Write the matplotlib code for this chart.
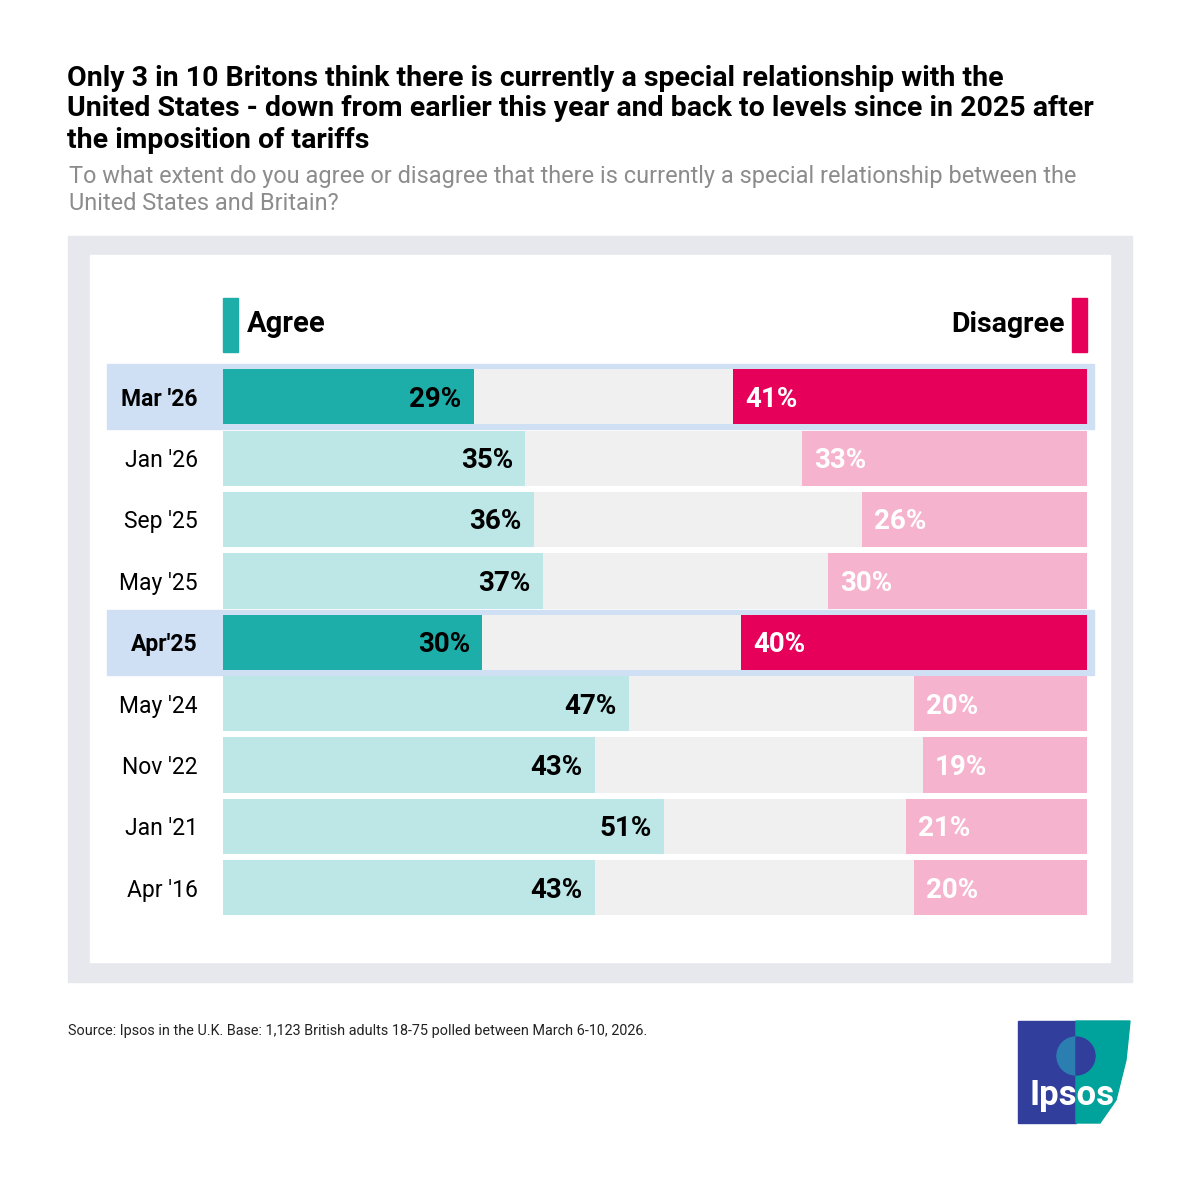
import matplotlib
matplotlib.use("Agg")
import matplotlib.pyplot as plt
from matplotlib.patches import Rectangle, Wedge, Polygon

plt.rcParams['font.family'] = ['Roboto', 'DejaVu Sans']

# data
dates = ["Mar '26", "Jan '26", "Sep '25", "May '25", "Apr'25",
         "May '24", "Nov '22", "Jan '21", "Apr '16"]
agree = [29, 35, 36, 37, 30, 47, 43, 51, 43]
disagree = [41, 33, 26, 30, 40, 20, 19, 21, 20]
highlight = [True, False, False, False, True, False, False, False, False]

title_lines = ["Only 3 in 10 Britons think there is currently a special relationship with the",
               "United States - down from earlier this year and back to levels since in 2025 after",
               "the imposition of tariffs"]
subtitle_lines = ["To what extent do you agree or disagree that there is currently a special relationship between the",
                  "United States and Britain?"]
source = "Source: Ipsos in the U.K. Base: 1,123 British adults 18-75 polled between March 6-10, 2026."

AGREE_DARK = "#1daeaa"
AGREE_LIGHT = "#bce7e6"
DIS_DARK = "#e6005a"
DIS_LIGHT = "#f6b3cd"
GREY_BAR = "#f0f0f0"
HL_BG = "#cfe0f5"

fig = plt.figure(figsize=(12, 12), dpi=100)

# frame axes in pixel coordinates
bg = fig.add_axes([0, 0, 1, 1])
bg.set_xlim(0, 1200)
bg.set_ylim(1200, 0)
bg.axis("off")
bg.add_patch(Rectangle((68, 236), 1064, 746, color="#e6e8ee", zorder=0))
bg.add_patch(Rectangle((90, 255), 1020, 707, color="white", zorder=0))

for k, line in enumerate(title_lines):
    bg.text(67, 78 + 31 * k, line, fontsize=20.5, fontweight="bold",
            va="center", ha="left", color="black")
for k, line in enumerate(subtitle_lines):
    bg.text(69, 177 + 26 * k, line, fontsize=16.9, va="center", ha="left",
            color="#8c8c8c")
bg.text(68, 1031, source, fontsize=10.4, va="center", ha="left", color="#222222")

# legend markers
bg.add_patch(Rectangle((223, 298), 15, 54, color=AGREE_DARK))
bg.text(247, 324, "Agree", fontsize=21, fontweight="bold", va="center", ha="left")
bg.add_patch(Rectangle((1072, 298), 15, 54, color=DIS_DARK))
bg.text(1065, 324, "Disagree", fontsize=20.5, fontweight="bold", va="center", ha="right")

# logo
bg.add_patch(Rectangle((1018, 1021), 58, 102, color="#323e9b"))
bg.add_patch(Polygon([(1076, 1021), (1130, 1021), (1126, 1060), (1116, 1100),
                      (1100, 1123), (1076, 1123)], closed=True, color="#00a39b"))
bg.add_patch(Wedge((1076, 1056), 19, 90, 270, color="#2a7fb0"))
bg.add_patch(Wedge((1076, 1056), 19, 270, 90, color="#323e9b"))
bg.text(1072, 1096, "Ipsos", fontsize=25, fontweight="bold", color="white",
        ha="center", va="center")

# bar axes
ax = fig.add_axes([223 / 1200, 1 - 918.5 / 1200, 864 / 1200, 552.4 / 1200])
ax.set_xlim(0, 100)
ax.set_ylim(len(dates) - 0.5, -0.5)
ax.axis("off")

y = list(range(len(dates)))
h = 0.9
for i in y:
    if highlight[i]:
        ax.add_patch(Rectangle((-13.4, i - 0.53), 114.2, 1.06, color=HL_BG,
                               clip_on=False, zorder=0))

ax.barh(y, [100] * len(dates), height=h, color=GREY_BAR, zorder=1)
ax.barh(y, agree, height=h, zorder=2,
        color=[AGREE_DARK if hl else AGREE_LIGHT for hl in highlight])
ax.barh(y, disagree, left=[100 - d for d in disagree], height=h, zorder=2,
        color=[DIS_DARK if hl else DIS_LIGHT for hl in highlight])

for i in y:
    ax.text(agree[i] - 1.4, i + 0.04, f"{agree[i]}%", ha="right", va="center",
            fontsize=20, fontweight="bold", color="black", zorder=3)
    ax.text(100 - disagree[i] + 1.4, i + 0.04, f"{disagree[i]}%", ha="left", va="center",
            fontsize=20, fontweight="bold", color="white", zorder=3)
    ax.text(-2.9, i + 0.04, dates[i], ha="right", va="center", fontsize=16.5,
            fontweight="bold" if highlight[i] else "normal", color="black",
            clip_on=False)

fig.savefig("out.png", dpi=100, facecolor="white")
